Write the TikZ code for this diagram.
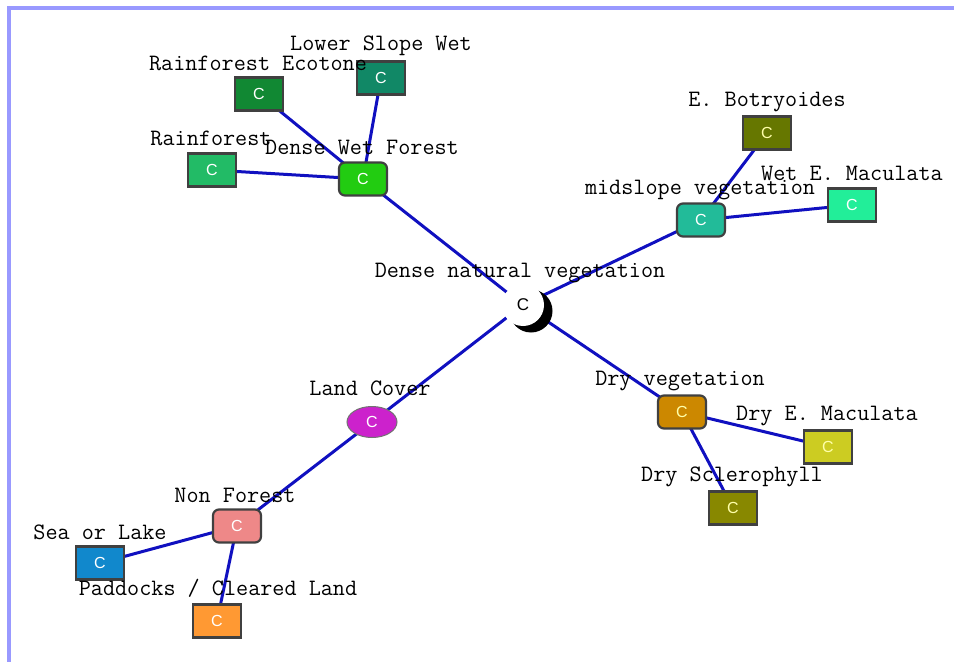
\documentclass[tikz,border=0pt]{standalone}
\usepackage{fontspec}
\setsansfont{Liberation Sans}
\usetikzlibrary{shapes.geometric}
\pgfdeclarelayer{bg}
\pgfsetlayers{bg,main}
\begin{document}
\begin{tikzpicture}[x=1bp,y=-1bp,
  lbl/.style={font=\fontsize{23.5bp}{24bp}\selectfont\ttfamily, inner sep=0pt, text=black},
  box/.style={draw=black!75, line width=2.2bp, minimum width=48bp, minimum height=33bp, inner sep=0pt,
     font=\fontsize{16bp}{16bp}\selectfont\sffamily, text=white},
  rbox/.style={box, rounded corners=6bp},
  ybox/.style={box, text={rgb,255:red,255;green,255;blue,170}},
  yrbox/.style={rbox, text={rgb,255:red,255;green,255;blue,170}},
  oval/.style={ellipse, draw=black!55, line width=1bp, minimum width=50bp, minimum height=31bp, inner sep=0pt,
     font=\fontsize{16bp}{16bp}\selectfont\sffamily, text=white},
  edge/.style={draw={rgb,255:red,16;green,16;blue,192}, line width=3bp}
]
\definecolor{frameblue}{RGB}{153,153,255}
\definecolor{cDWF}{RGB}{34,204,17}
\definecolor{cRE}{RGB}{17,136,51}
\definecolor{cLSW}{RGB}{17,136,102}
\definecolor{cRF}{RGB}{34,187,102}
\definecolor{cEB}{RGB}{102,119,0}
\definecolor{cMS}{RGB}{34,187,153}
\definecolor{cWEM}{RGB}{34,238,153}
\definecolor{cLC}{RGB}{204,34,204}
\definecolor{cDV}{RGB}{204,136,0}
\definecolor{cDEM}{RGB}{204,204,34}
\definecolor{cDS}{RGB}{136,136,0}
\definecolor{cNF}{RGB}{238,136,136}
\definecolor{cSL}{RGB}{17,136,204}
\definecolor{cPD}{RGB}{255,153,51}
\useasboundingbox (0,0) rectangle (954,662);
\begin{pgfonlayer}{bg}
\fill[white] (0,0) rectangle (954,662);
\fill[frameblue] (7,6) rectangle (954,10);
\fill[frameblue] (7,6) rectangle (11,662);
\end{pgfonlayer}

% nodes
\node[rbox, fill=cDWF] (dwf) at (363,179) {C};
\node[box, fill=cRE] (re) at (259,94) {C};
\node[box, fill=cLSW] (lsw) at (381,78) {C};
\node[box, fill=cRF] (rf) at (212,170) {C};
\node[ybox, fill=cEB] (eb) at (767,133) {C};
\node[rbox, fill=cMS] (ms) at (701,220) {C};
\node[box, fill=cWEM] (wem) at (852,205) {C};
\node[oval, fill=cLC] (lc) at (372,422) {C};
\node[yrbox, fill=cDV] (dv) at (682,412) {C};
\node[ybox, fill=cDEM] (dem) at (828,447) {C};
\node[ybox, fill=cDS] (ds) at (733,508) {C};
\node[rbox, fill=cNF] (nf) at (237,526) {C};
\node[box, fill=cSL] (sl) at (100,563) {C};
\node[box, fill=cPD] (pd) at (217,621) {C};

% centre node with crescent shadow
\fill[black] (531,311) circle (21.5bp);
\node[circle, fill=white, minimum size=42bp, inner sep=0pt,
  font=\fontsize{17bp}{17bp}\selectfont\sffamily] (dnv) at (523,305) {C};

% edges (behind nodes)
\begin{pgfonlayer}{bg}
\path[edge] (dnv.center) -- (dwf.center);
\path[edge] (dnv.center) -- (ms.center);
\path[edge] (dnv.center) -- (lc.center);
\path[edge] (dnv.center) -- (dv.center);
\path[edge] (dwf.center) -- (rf.center);
\path[edge] (dwf.center) -- (re.center);
\path[edge] (dwf.center) -- (lsw.center);
\path[edge] (ms.center) -- (eb.center);
\path[edge] (ms.center) -- (wem.center);
\path[edge] (dv.center) -- (dem.center);
\path[edge] (dv.center) -- (ds.center);
\path[edge] (lc.center) -- (nf.center);
\path[edge] (nf.center) -- (sl.center);
\path[edge] (nf.center) -- (pd.center);
\end{pgfonlayer}

% labels
\node[lbl] (tLSW) at (381,46) {Lower Slope Wet};
\node[lbl] (tRE) at (258,63) {Rainforest Ecotone};
\node[lbl] (tRF) at (211,138) {Rainforest};
\node[lbl] (tDWF) at (362,147) {Dense Wet Forest};
\node[lbl] (tEB) at (767,102) {E. Botryoides};
\node[lbl] (tWEM) at (852,173) {Wet E. Maculata};
\node[lbl] (tMS) at (700,190) {midslope vegetation};
\node[lbl] (tDNV) at (520,273) {Dense natural vegetation};
\node[lbl] (tLC) at (370,388) {Land Cover};
\node[lbl] (tDV) at (680,381) {Dry vegetation};
\node[lbl] (tDEM) at (827,416) {Dry E. Maculata};
\node[lbl] (tDS) at (732,477) {Dry Sclerophyll};
\node[lbl] (tNF) at (235,495) {Non Forest};
\node[lbl] (tSL) at (100,532) {Sea or Lake};
\node[lbl] (tPD) at (218,588) {Paddocks / Cleared Land};
\end{tikzpicture}
\end{document}
